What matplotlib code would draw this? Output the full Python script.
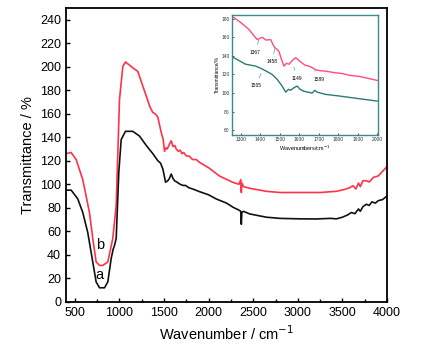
import numpy as np
import matplotlib
matplotlib.use("Agg")
import matplotlib.pyplot as plt
from matplotlib.ticker import MultipleLocator

plt.rcParams['font.family'] = ['Liberation Sans', 'DejaVu Sans']

# main spectrum, curve b (red)
wn_b = [400, 458, 514, 588, 663, 700, 738, 776, 813, 869, 925, 963, 1000, 1037, 1067,
        1149, 1205, 1250, 1300, 1340, 1374, 1400, 1430, 1450, 1468, 1490, 1505, 1520,
        1535, 1560, 1580, 1600, 1620, 1636, 1660, 1680, 1700, 1720, 1749, 1780, 1820,
        1860, 1898, 2000, 2122, 2272, 2340, 2360, 2366, 2372, 2390, 2459, 2646, 2800,
        3020, 3250, 3432, 3520, 3580, 3618, 3650, 3680, 3700, 3730, 3768, 3800, 3850,
        3900, 3950, 4000]
tr_b = [126, 127, 121, 104, 76, 54, 34, 31, 31, 34, 54, 82, 172, 200, 204,
        199, 196, 186, 175, 166, 161, 160, 157, 150, 144, 138, 128, 131,
        130, 134, 137, 132, 133, 130, 128, 129, 126, 127, 124, 124, 121,
        121, 118.6, 114, 107, 101.6, 100, 104, 93, 101, 98, 96.6, 94, 93,
        93, 93, 94, 95.5, 97, 98.8, 96, 101, 98, 103, 103, 102, 106,
        107, 111, 115]

# main spectrum, curve a (black)
wn_a = [400, 458, 532, 588, 644, 700, 738, 776, 832, 869, 907, 930, 944, 963, 992,
        1019, 1067, 1149, 1224, 1300, 1374, 1430, 1460, 1486, 1500, 1516, 1542, 1560,
        1580, 1600, 1617, 1640, 1660, 1680, 1711, 1740, 1780, 1820, 1898, 2000, 2085,
        2200, 2272, 2340, 2360, 2366, 2372, 2390, 2459, 2646, 2800, 3020, 3200, 3367,
        3432, 3500, 3560, 3600, 3640, 3680, 3700, 3730, 3768, 3800, 3830, 3870, 3900,
        3950, 4000]
tr_a = [95, 95, 87.6, 76, 59, 34, 17, 12, 12, 17, 37, 45, 48, 54, 110,
        138, 145, 145, 141, 133, 126, 120, 118, 113, 108, 101.7, 103, 105,
        108.7, 105, 103, 102, 101, 100, 99, 99, 97, 96, 93.7, 91, 87.5,
        84, 80.5, 78, 77, 66, 76, 77, 74.8, 72, 71, 70.6, 70.5, 71,
        70.6, 72, 74, 76, 75, 79, 77, 81, 83, 82, 85, 84, 86,
        87, 90]

# inset (expanded region)
ins_wn_b = [1260, 1300, 1340, 1385, 1411, 1430, 1454, 1471, 1496, 1510, 1522, 1535,
            1548, 1565, 1582, 1595, 1607, 1630, 1650, 1670, 1684, 1710, 1735, 1780,
            1821, 1860, 1906, 1950, 2000]
ins_tr_b = [182, 176, 169, 157.5, 160, 157, 157.5, 150, 145, 136, 129, 132,
            131, 135, 138, 136, 133.6, 130, 129, 127, 125, 124, 123.6, 122,
            121, 119, 118, 116, 113.6]
ins_wn_a = [1260, 1300, 1326, 1377, 1410, 1445, 1462, 1488, 1513, 1531, 1545, 1556,
            1575, 1590, 1605, 1624, 1645, 1667, 1680, 1693, 1735, 1800, 1906, 2000]
ins_tr_a = [138.6, 134, 131, 129, 126, 122, 120, 114.6, 107.5, 101, 104, 103,
            106, 107.5, 104, 102, 101, 100, 103, 101, 98.6, 97, 94, 91.4]
ins_labels = ['1367', '1458', '1149', '1589', '1505']
ins_label_xy = [(1373, 144), (1462, 134), (1587, 116), (1701, 115), (1377, 108)]
ins_point_xy = [(1394, 157), (1476, 149), (1573, 128), (1680, 124), (1405, 121)]

fig = plt.figure(figsize=(4.23, 3.56), dpi=100)
ax = fig.add_axes([0.156, 0.152, 0.759, 0.826])

ax.plot(wn_b, tr_b, color='#ff3348', lw=1.2)
ax.plot(wn_a, tr_a, color='#111111', lw=1.2)

ax.set_xlim(400, 4000)
ax.set_ylim(0, 250)
ax.xaxis.set_major_locator(MultipleLocator(500))
ax.xaxis.set_minor_locator(MultipleLocator(250))
ax.yaxis.set_major_locator(MultipleLocator(20))
ax.tick_params(direction='in', labelsize=9, length=3, width=1)
ax.tick_params(which='minor', direction='in', length=2, width=1)
for s in ax.spines.values():
    s.set_linewidth(1.3)

ax.set_xlabel('Wavenumber / cm$^{-1}$', fontsize=10.5)
ax.set_ylabel('Transmittance / %', fontsize=10.5)

ax.text(778, 48, 'b', fontsize=10.5, ha='center', va='center')
ax.text(778, 23, 'a', fontsize=10.5, ha='center', va='center')

# inset
ins = fig.add_axes([0.548, 0.621, 0.346, 0.337])
teal = '#3a8c8c'
ins.plot(ins_wn_b, ins_tr_b, color='#ff4d7a', lw=1.0)
ins.plot(ins_wn_a, ins_tr_a, color='#2c7a76', lw=1.0)
for lab, (lx, ly), (px, py) in zip(ins_labels, ins_label_xy, ins_point_xy):
    ins.annotate(lab, xy=(px, py), xytext=(lx, ly), fontsize=3.5, ha='center', va='center',
                 arrowprops=dict(arrowstyle='-', color='#7aa8a8', lw=0.6, shrinkA=2, shrinkB=0))
ins.set_xlim(1255, 2005)
ins.set_ylim(55, 184)
ins.xaxis.set_major_locator(MultipleLocator(100))
ins.yaxis.set_major_locator(MultipleLocator(20))
ins.tick_params(direction='in', labelsize=3.5, length=1.5, width=0.6, pad=1.5, colors='#333333')
for s in ins.spines.values():
    s.set_color(teal)
    s.set_linewidth(1.0)
ins.set_xlabel('Wavenumbers/cm$^{-1}$', fontsize=4, labelpad=1)
ins.set_ylabel('Transmittance/%', fontsize=3.5, labelpad=1)

fig.savefig('out.png', dpi=100)
